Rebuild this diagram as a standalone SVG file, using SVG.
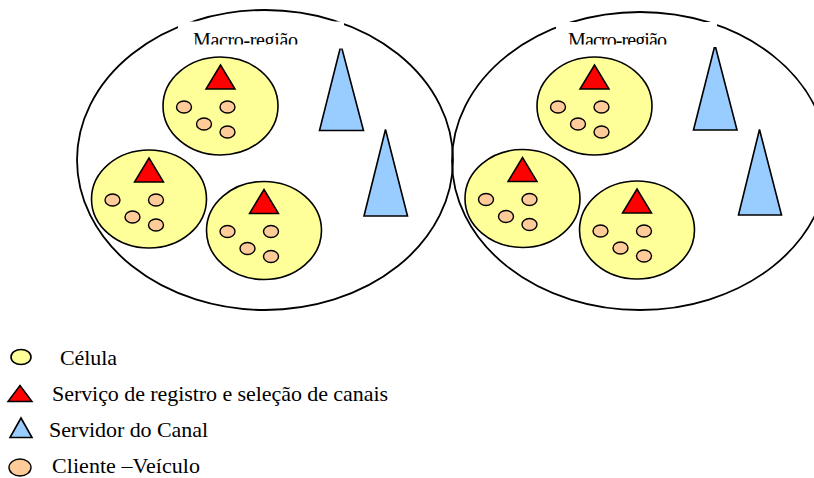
<svg xmlns="http://www.w3.org/2000/svg" width="814" height="478" viewBox="0 0 814 478">
<style>
.macro{fill:none;stroke:#000;stroke-width:1.8}
.cell{fill:#FFFF99;stroke:#000;stroke-width:1.6}
.reg{fill:#FF0000;stroke:#000;stroke-width:1.5;stroke-linejoin:miter}
.srv{fill:#99CCFF;stroke:#000;stroke-width:1.6}
.cli{fill:#FFCC99;stroke:#000;stroke-width:1.4}
.lbl{font-family:"Liberation Serif","Times New Roman",serif;fill:#000}
.box{fill:#fff}
</style>
<defs>
<g id="cellshape">
<ellipse class="cell" cx="0" cy="0" rx="57.5" ry="49"/>
<polygon class="reg" points="0,-41 14.5,-17 -14.5,-17"/>
<ellipse class="cli" cx="-36.5" cy="1" rx="7.5" ry="6"/>
<ellipse class="cli" cx="7" cy="1" rx="7.5" ry="6"/>
<ellipse class="cli" cx="-16.5" cy="18" rx="7.5" ry="6"/>
<ellipse class="cli" cx="7" cy="26" rx="7.5" ry="6"/>
</g>
<clipPath id="clipL"><rect x="150" y="20" width="220" height="24.5"/></clipPath>
<clipPath id="clipR"><rect x="530" y="20" width="220" height="24.5"/></clipPath>
<clipPath id="clipC"><rect x="40" y="330" width="200" height="35"/></clipPath>
</defs>
<rect width="814" height="478" fill="#fff"/>
<g id="connectors"></g>

<g id="macro-left">
<ellipse class="macro" cx="265" cy="160" rx="188" ry="150"/>
</g>
<g id="macro-right">
<ellipse class="macro" cx="640" cy="161" rx="188" ry="149"/>
</g>

<g id="server-left-1"><polygon class="srv" points="341,45 363.5,130.5 319.5,130.5"/></g>
<g id="server-left-2"><polygon class="srv" points="385.5,129.5 407.5,216 364,216"/></g>
<g id="server-right-1"><polygon class="srv" points="715,45 737,130 693.5,130"/></g>
<g id="server-right-2"><polygon class="srv" points="759.5,129.5 781.5,215 738.5,215"/></g>

<g id="label-left">
<rect class="box" x="178" y="21.5" width="166" height="27"/>
<text class="lbl" x="193" y="46.5" font-size="20" textLength="105" clip-path="url(#clipL)">Macro-região</text>
</g>
<g id="label-right">
<rect class="box" x="556" y="22" width="161" height="25"/>
<text class="lbl" x="568" y="46.5" font-size="20" textLength="99" clip-path="url(#clipR)">Macro-região</text>
</g>

<g id="cell-left-a"><use href="#cellshape" x="220.5" y="106"/></g>
<g id="cell-left-b"><use href="#cellshape" x="149" y="199"/></g>
<g id="cell-left-c"><use href="#cellshape" x="264" y="230.5"/></g>
<g id="cell-right-a"><use href="#cellshape" x="594.5" y="106"/></g>
<g id="cell-right-b"><use href="#cellshape" x="522.5" y="198.5"/></g>
<g id="cell-right-c"><use href="#cellshape" x="637" y="230"/></g>

<g id="legend">
<g id="legend-cell">
<ellipse class="cell" cx="21" cy="357" rx="10" ry="7.5"/>
<text class="lbl" x="60" y="365" font-size="22" textLength="57" clip-path="url(#clipC)">Célula</text>
</g>
<g id="legend-reg">
<polygon class="reg" points="20,385.5 32,401.5 8,401.5"/>
<text class="lbl" x="52" y="401" font-size="22" textLength="336">Serviço de registro e seleção de canais</text>
</g>
<g id="legend-srv">
<polygon class="srv" points="21,418 32,437.5 10,437.5"/>
<text class="lbl" x="49" y="437" font-size="22" textLength="159">Servidor do Canal</text>
</g>
<g id="legend-cli">
<ellipse class="cli" cx="20" cy="467.5" rx="11" ry="8.5"/>
<text class="lbl" x="52" y="473" font-size="22" textLength="148">Cliente –Veículo</text>
</g>
</g>
</svg>
